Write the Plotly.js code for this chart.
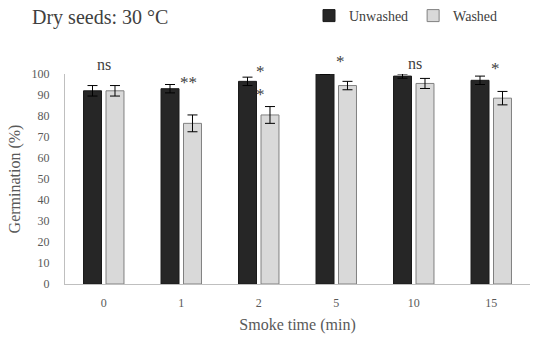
<!DOCTYPE html>
<html>
<head>
<meta charset="utf-8">
<script src="https://cdn.plot.ly/plotly-3.0.1.min.js"></script>
<style>html,body{margin:0;padding:0;background:#fff}#chart{width:547px;height:341px}</style>
</head>
<body>
<div id="chart"></div>
<script>
// Data
var categories = ['0', '1', '2', '5', '10', '15'];
var unwashed = [92, 93, 96.5, 100, 99, 97];
var unwashedErr = [2.5, 2, 2, 0, 1, 2];
var washed = [92, 76.5, 80.5, 94.5, 95.5, 88.5];
var washedErr = [2.5, 4, 4, 2, 2.4, 3.2];
var sigLabels = ['ns', '**', '*', '*', '*', 'ns', '*'];
var sigCats = ['0', '1', '2', '2', '5', '10', '15'];
var sigY = [104.5, 97.5, 102.5, 91.5, 107.5, 105, 104];
var sigShift = [0, 7, 2, 2, 4, 1, 4];

var serif = 'Liberation Serif, Times New Roman, serif';

var traces = [
  {
    type: 'bar', name: 'Unwashed', x: categories, y: unwashed,
    marker: {color: '#262626', line: {color: '#1a1a1a', width: 1}},
    error_y: {type: 'data', array: unwashedErr, visible: true, color: '#000', thickness: 1, width: 5}
  },
  {
    type: 'bar', name: 'Washed', x: categories, y: washed,
    marker: {color: '#d9d9d9', line: {color: '#808080', width: 1}},
    error_y: {type: 'data', array: washedErr, visible: true, color: '#000', thickness: 1, width: 5}
  }
];

var annotations = sigLabels.map(function (t, i) {
  var isNs = t === 'ns';
  return {
    text: t, x: categories.indexOf(sigCats[i]), xref: 'x', y: sigY[i] / 100, yref: 'paper',
    xshift: sigShift[i], yshift: isNs ? 0 : -3, showarrow: false, xanchor: 'center', yanchor: 'middle',
    font: {family: serif, size: isNs ? 16 : 17, color: '#404040'}
  };
});

var layout = {
  width: 547, height: 341,
  margin: {l: 65, r: 17, t: 74, b: 57},
  paper_bgcolor: '#fff', plot_bgcolor: '#fff',
  title: {text: 'Dry seeds: 30 °C', x: 32 / 547, xanchor: 'left', xref: 'container', y: 1 - 17 / 341, yanchor: 'middle', yref: 'container',
    font: {family: serif, size: 20, color: '#404040'}},
  barmode: 'group', bargap: 0.42, bargroupgap: 0.2,
  showlegend: true,
  legend: {orientation: 'h', x: 406 / 547, xanchor: 'center', xref: 'container', y: 1 - 16 / 341, yanchor: 'middle', yref: 'container',
    font: {family: serif, size: 14, color: '#404040'}, itemwidth: 30, tracegroupgap: 0, bgcolor: 'rgba(0,0,0,0)'},
  xaxis: {
    type: 'category', range: [-0.5, 5.5], showline: true, linecolor: '#bfbfbf', linewidth: 1, ticks: '', showgrid: false,
    tickfont: {family: serif, size: 12, color: '#595959'}, ticklabelstandoff: 8,
    title: {text: 'Smoke time (min)', font: {family: serif, size: 16, color: '#595959'}, standoff: 9}
  },
  yaxis: {
    range: [0, 100], showline: true, linecolor: '#bfbfbf', linewidth: 1, ticks: '', showgrid: false,
    tickvals: [0, 10, 20, 30, 40, 50, 60, 70, 80, 90, 100], zeroline: false,
    tickfont: {family: serif, size: 12, color: '#595959'}, ticklabelstandoff: 12,
    title: {text: 'Germination (%)', font: {family: serif, size: 16, color: '#595959'}, standoff: 6}
  },
  annotations: annotations
};

Plotly.newPlot('chart', traces, layout, {displayModeBar: false, staticPlot: true});
</script>
</body>
</html>
